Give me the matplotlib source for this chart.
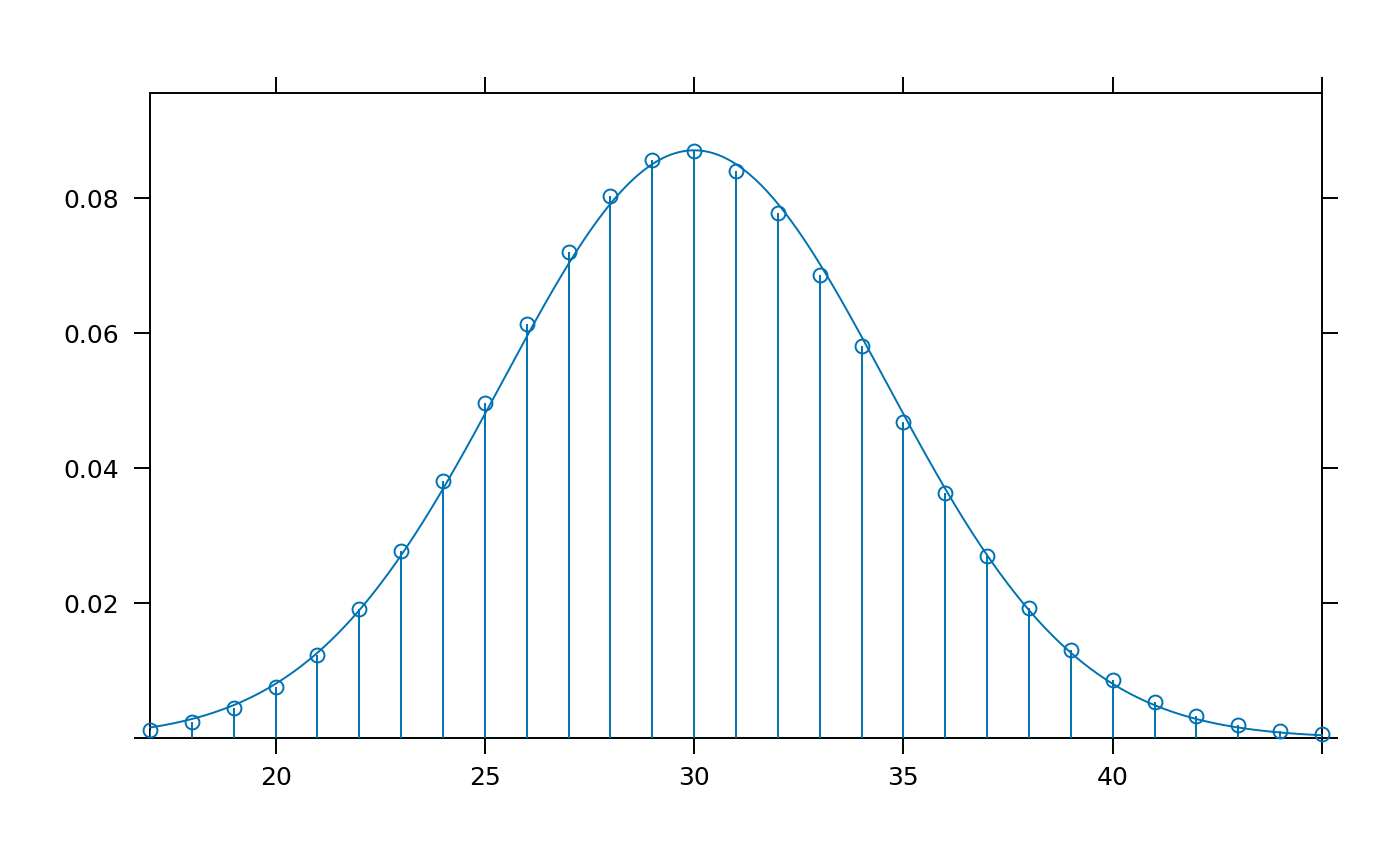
import numpy as np
import matplotlib
matplotlib.use("Agg")
import matplotlib.pyplot as plt

# Data
x_vals = list(range(17, 46))
y_vals = [0.00119, 0.00237, 0.00444, 0.00756, 0.0123, 0.0191, 0.0277, 0.0381,
          0.0496, 0.0613, 0.0720, 0.0804, 0.0856, 0.0870, 0.0841, 0.0778,
          0.0686, 0.0581, 0.0468, 0.0363, 0.0270, 0.0193, 0.0130, 0.0086,
          0.0053, 0.0033, 0.0019, 0.0010, 0.0006]

# Fitted normal density curve parameters
curve_mean = 30.0
curve_sd = 4.58

x_ticks = [20, 25, 30, 35, 40, 45]
x_tick_labels = ["20", "25", "30", "35", "40", ""]
y_ticks = [0.0, 0.02, 0.04, 0.06, 0.08]
y_tick_labels = ["", "0.02", "0.04", "0.06", "0.08"]

color = "#0072B2"

fig = plt.figure(figsize=(14, 8.66), dpi=100)
ax = fig.add_axes([150 / 1400, 1 - 738 / 866, (1322 - 150) / 1400, (738 - 93) / 866])

# curve
xc = np.linspace(x_vals[0], x_vals[-1], 400)
yc = np.exp(-0.5 * ((xc - curve_mean) / curve_sd) ** 2) / (curve_sd * np.sqrt(2 * np.pi))
ax.plot(xc, yc, color=color, lw=1.4, clip_on=False, zorder=3)

# vertical lines + points
ax.vlines(x_vals, 0, y_vals, color=color, lw=1.4, zorder=3)
ax.plot(x_vals, y_vals, linestyle="none", marker="o", markersize=10,
        markerfacecolor="none", markeredgecolor=color, markeredgewidth=1.4,
        clip_on=False, zorder=4)

ax.set_xlim(17, 45)
ax.set_ylim(0, 0.0956)

for s in ax.spines.values():
    s.set_linewidth(1.4)
    s.set_color("black")

ax.set_xticks(x_ticks)
ax.set_xticklabels(x_tick_labels)
ax.set_yticks(y_ticks)
ax.set_yticklabels(y_tick_labels)

ax.tick_params(axis="both", which="both", direction="out", length=11.5,
               width=1.4, labelsize=18, colors="black",
               top=True, right=True, labeltop=False, labelright=False)
ax.tick_params(axis="x", pad=9)
ax.tick_params(axis="y", pad=11)

fig.savefig("out.png", dpi=100)
